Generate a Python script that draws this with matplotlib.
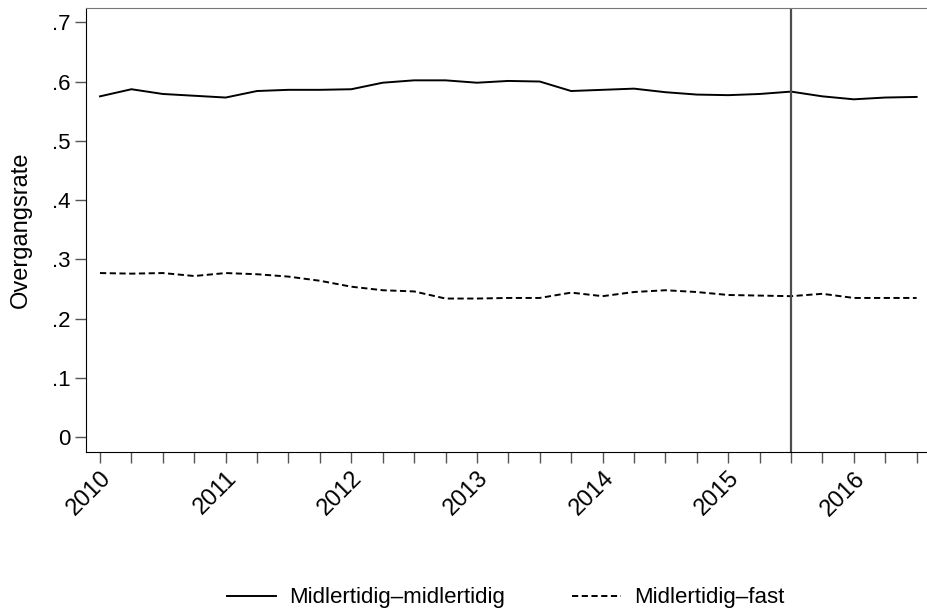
import numpy as np
import matplotlib.pyplot as plt

plt.rcParams['font.family'] = ['Liberation Sans', 'DejaVu Sans']

# quarterly observations, 2010q1 - 2016q3
quarters = np.arange(27)
years = [2010, 2011, 2012, 2013, 2014, 2015, 2016]

midl_midl = [0.575, 0.587, 0.579, 0.576, 0.573, 0.584, 0.586, 0.586, 0.587,
             0.598, 0.602, 0.602, 0.598, 0.601, 0.600, 0.584, 0.586, 0.588,
             0.582, 0.578, 0.577, 0.579, 0.583, 0.575, 0.570, 0.573, 0.574]
midl_fast = [0.277, 0.276, 0.277, 0.272, 0.277, 0.275, 0.271, 0.264, 0.254,
             0.248, 0.246, 0.234, 0.234, 0.235, 0.235, 0.244, 0.238, 0.245,
             0.248, 0.245, 0.240, 0.239, 0.238, 0.242, 0.235, 0.235, 0.235]
reform_q = 22  # 2015q3

yticks = [0, 0.1, 0.2, 0.3, 0.4, 0.5, 0.6, 0.7]
ytick_labels = ['0', '.1', '.2', '.3', '.4', '.5', '.6', '.7']

fig = plt.figure(figsize=(9.27, 6.1), dpi=100)
ax = fig.add_axes([86 / 927, 158 / 610, 1 - 86 / 927, 444 / 610])

ax.plot(quarters, midl_midl, color='black', lw=1.4, label='Midlertidig\u2013midlertidig')
ax.plot(quarters, midl_fast, color='black', lw=1.4, ls=(0, (3.2, 1.8)),
        label='Midlertidig\u2013fast')
ax.axvline(reform_q, color='#4d4d4d', lw=1.6)

ax.set_xlim(-0.446, 26.33)
ax.set_ylim(-0.0248, 0.724)

ax.set_xticks(quarters, minor=True)
ax.set_xticks([4 * i for i in range(len(years))])
ax.set_xticklabels([str(y) for y in years], rotation=45, ha='right', va='top',
                   rotation_mode='anchor', fontsize=17)
ax.tick_params(axis='x', which='both', length=8, width=1, color='#555555', pad=3)
ax.set_yticks(yticks)
ax.set_yticklabels(ytick_labels, fontsize=16)
ax.tick_params(axis='y', length=8, width=1, color='#555555', pad=3)
ax.set_ylabel('Overgangsrate', fontsize=17)
ax.yaxis.set_label_coords(-0.064, 0.5)

ax.spines['top'].set_color('#777777')
ax.spines['right'].set_visible(False)
ax.spines['left'].set_color('black')
ax.spines['bottom'].set_color('black')

fig.legend(loc='center', bbox_to_anchor=(506 / 927, 1 - 598 / 610), ncol=2,
           frameon=False, fontsize=16, handlelength=2.2, columnspacing=3.0,
           handletextpad=0.6)

fig.savefig('out.png', dpi=100)
